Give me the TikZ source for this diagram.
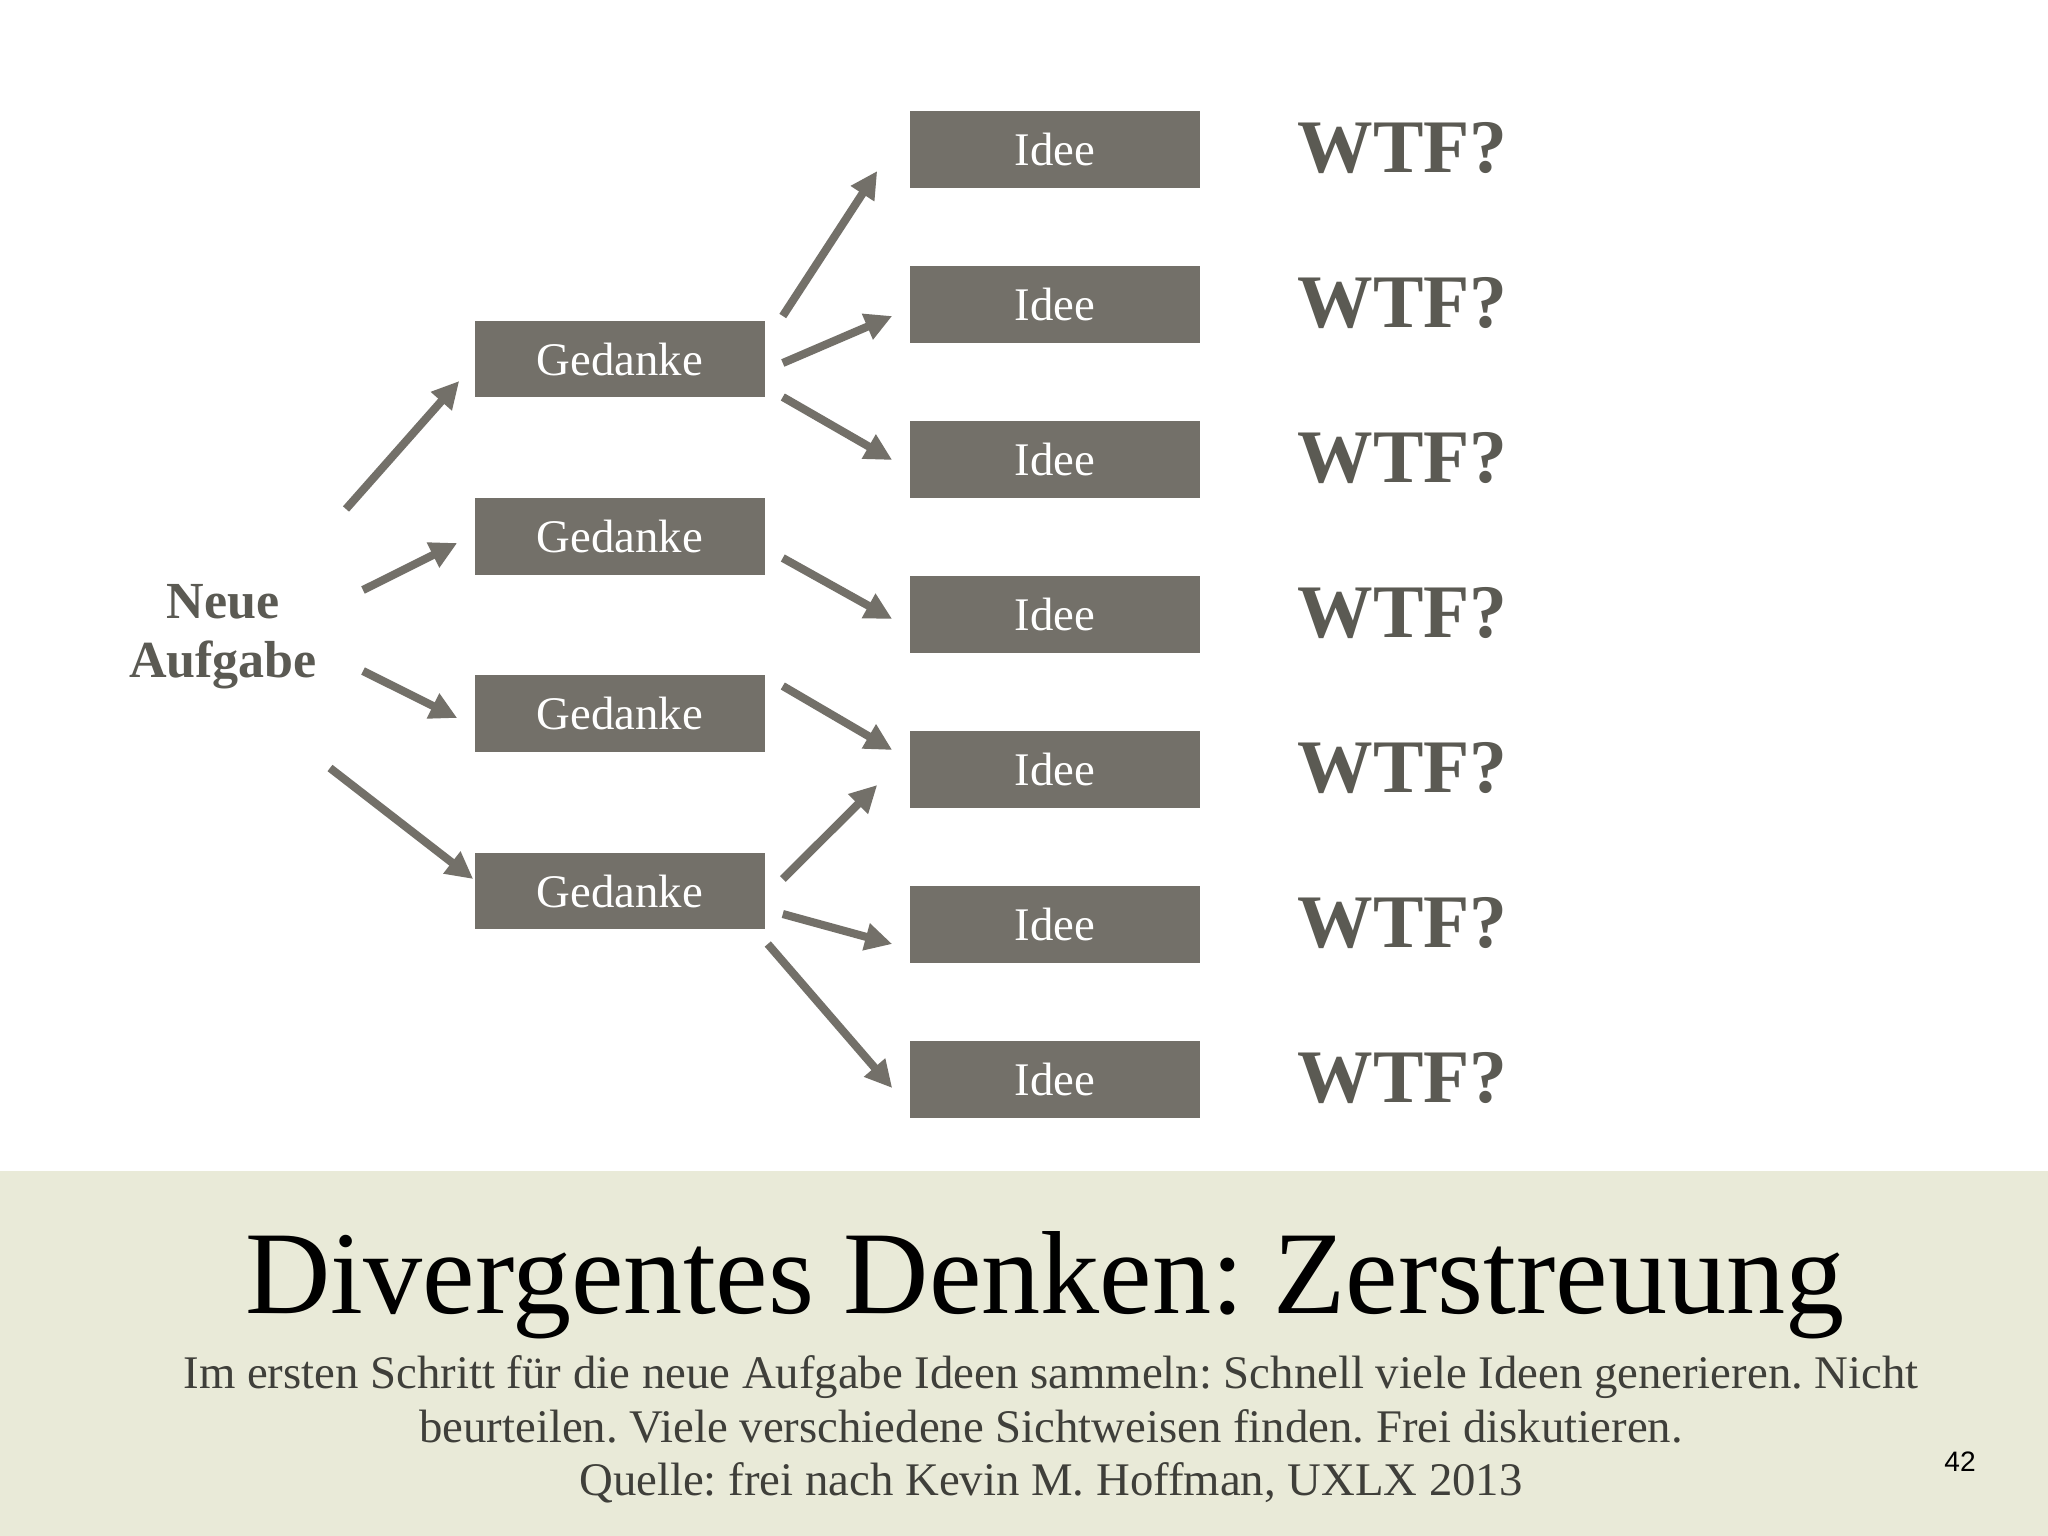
\documentclass[tikz,border=0pt]{standalone}
\usepackage{fontspec}
\setmainfont{Liberation Serif}
\newfontfamily\numfont{Liberation Sans}
\usetikzlibrary{arrows.meta}
\frenchspacing
\definecolor{boxgray}{HTML}{737069}
\definecolor{arrowgray}{HTML}{737069}
\definecolor{wtfgray}{HTML}{5B5A53}
\definecolor{band}{HTML}{E9EAD8}
\definecolor{subgray}{HTML}{3F3F3A}
\tikzset{
  gbox/.style={fill=boxgray, text=white, minimum width=2.9cm, minimum height=0.76cm, inner sep=0pt, font=\fontsize{13.3}{15}\selectfont},
  arr/.style={draw=arrowgray, line width=2.3pt, -{Triangle[length=7.7pt,width=7.5pt]}},
  wtf/.style={text=wtfgray, font=\fontsize{21.5}{24}\selectfont\bfseries, anchor=base west, inner sep=0pt},
  subline/.style={text=subgray, font=\fontsize{13.3}{15}\selectfont, anchor=base, inner sep=0pt},
}
\begin{document}
\begin{tikzpicture}[x=0.01cm,y=-0.01cm]
\useasboundingbox (0,0) rectangle (2048,1536);
\fill[white] (0,0) rectangle (2048,1536);
\fill[band] (0,1171) rectangle (2048,1536);

% start node
\node[align=center, inner sep=0pt, text=wtfgray, font=\fontsize{14.8}{16.8}\selectfont\bfseries] (na) at (223,637) {Neue\\Aufgabe};

% Gedanke boxes
\node[gbox] (g1) at (620,359) {Gedanke};
\node[gbox] (g2) at (620,536.5) {Gedanke};
\node[gbox] (g3) at (620,713.5) {Gedanke};
\node[gbox] (g4) at (620,891) {Gedanke};

% Idee boxes
\node[gbox] (i1) at (1055,149.5) {Idee};
\node[gbox] (i2) at (1055,304.5) {Idee};
\node[gbox] (i3) at (1055,459.5) {Idee};
\node[gbox] (i4) at (1055,614.5) {Idee};
\node[gbox] (i5) at (1055,769.5) {Idee};
\node[gbox] (i6) at (1055,924.5) {Idee};
\node[gbox] (i7) at (1055,1079.5) {Idee};

% WTF labels
\node[wtf] (w1) at (1297,172) {WTF?};
\node[wtf] (w2) at (1297,327) {WTF?};
\node[wtf] (w3) at (1297,482) {WTF?};
\node[wtf] (w4) at (1297,637) {WTF?};
\node[wtf] (w5) at (1297,792) {WTF?};
\node[wtf] (w6) at (1297,947) {WTF?};
\node[wtf] (w7) at (1297,1102) {WTF?};

% arrows from start
\draw[arr] ([shift={(123,-128)}]na.center) -- ([shift={(-15,22)}]g1.west);
\draw[arr] ([shift={(140,-47)}]na.center) -- ([shift={(-17,6.5)}]g2.west);
\draw[arr] ([shift={(140,34)}]na.center) -- ([shift={(-17,4.5)}]g3.west);
\draw[arr] ([shift={(107,131)}]na.center) -- ([shift={(-1,-12)}]g4.west);

% arrows to ideas
\draw[arr] ([shift={(17,-43)}]g1.east) -- ([shift={(-32,21.5)}]i1.west);
\draw[arr] ([shift={(17,4)}]g1.east) -- ([shift={(-17,11.5)}]i2.west);
\draw[arr] ([shift={(17,38)}]g1.east) -- ([shift={(-17,0.5)}]i3.west);
\draw[arr] ([shift={(17,21.5)}]g2.east) -- ([shift={(-17,4.5)}]i4.west);
\draw[arr] ([shift={(17,-27.5)}]g3.east) -- ([shift={(-17,-19.5)}]i5.west);
\draw[arr] ([shift={(17,-12)}]g4.east) -- ([shift={(-32,15.5)}]i5.west);
\draw[arr] ([shift={(17,23)}]g4.east) -- ([shift={(-17,19.5)}]i6.west);
\draw[arr] ([shift={(2,53)}]g4.east) -- ([shift={(-17,8.5)}]i7.west);

% title and text
\node[anchor=base, inner sep=0pt, font=\fontsize{33.6}{36}\selectfont] (title) at (1045,1313) {Divergentes Denken: Zerstreuung};
\node[subline] (s1) at (1051,1388) {Im ersten Schritt für die neue Aufgabe Ideen sammeln: Schnell viele Ideen generieren. Nicht};
\node[subline] (s2) at (1051,1442) {beurteilen. Viele verschiedene Sichtweisen finden. Frei diskutieren.};
\node[subline] (s3) at (1051,1495) {Quelle: frei nach Kevin M. Hoffman, UXLX 2013};
\node[inner sep=0pt, font=\numfont\fontsize{8}{9}\selectfont] (pg) at (1960,1462) {42};
\end{tikzpicture}
\end{document}
